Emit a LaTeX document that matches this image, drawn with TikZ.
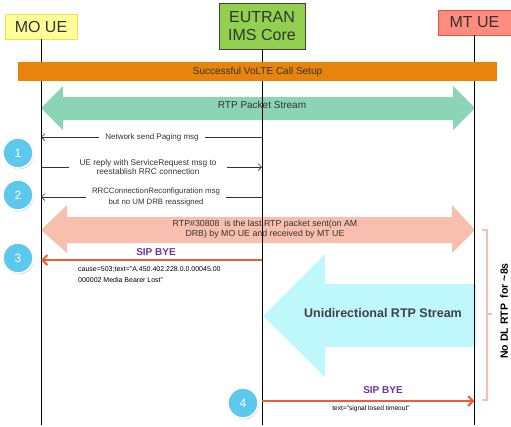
\documentclass[tikz,border=0pt]{standalone}
\usepackage{fontspec}
\setmainfont{Liberation Sans}
\usetikzlibrary{arrows.meta,positioning,shadows}
\definecolor{voYellow}{HTML}{FFFF99}
\definecolor{voYellowLine}{HTML}{F2E04A}
\definecolor{voGreen}{HTML}{92D050}
\definecolor{voRedBox}{HTML}{FF8C7E}
\definecolor{voRedLine}{HTML}{F0503C}
\definecolor{voOrange}{HTML}{E8840C}
\definecolor{voMint}{HTML}{8CD4B6}
\definecolor{voSalmon}{HTML}{F9BFAE}
\definecolor{voCyan}{HTML}{BEF8FC}
\definecolor{voDot}{HTML}{5CC8EC}
\definecolor{voRed}{HTML}{F45B2F}
\definecolor{voPurple}{HTML}{7030A0}
\definecolor{voText}{HTML}{333333}
\tikzset{
  entity/.style={minimum height=25pt,align=center,inner sep=2pt,
    font=\fontsize{16}{17}\selectfont,text=voText},
  life/.style={draw=black,line width=0.9pt},
  msg/.style={-{Straight Barb[length=3.5pt,width=7pt]},line width=0.6pt,black!80},
  msglabel/.style={fill=white,align=center,inner xsep=6pt,inner ysep=0.5pt,
    font=\fontsize{8.3}{9}\selectfont,text=voText},
  stepdot/.style={circle,fill=voDot,draw=white,line width=1.5pt,minimum size=30pt,
    text=white,font=\fontsize{12}{12}\selectfont,
    drop shadow={opacity=0.3,shadow xshift=0.8pt,shadow yshift=-1.5pt}},
  bye/.style={-{Straight Barb[length=5pt,width=10pt]},line width=2pt,voRed},
  byelabel/.style={font=\bfseries\fontsize{10}{12}\selectfont,text=voPurple},
  streamlabel/.style={align=center,text=voText}
}
\begin{document}
\begin{tikzpicture}[x=1pt,y=-1pt]
  \useasboundingbox (0,0) rectangle (511,426);
  % block arrows
  \fill[voMint] (41,108) -- (63,86) -- (63,97) -- (453,97) -- (453,86) -- (475,108)
    -- (453,130) -- (453,120) -- (63,120) -- (63,130) -- cycle;
  \fill[voSalmon] (41,230) -- (67,205) -- (67,217) -- (452,217) -- (452,205) -- (475,230)
    -- (452,253) -- (452,243) -- (67,243) -- (67,253) -- cycle;
  \fill[voCyan] (263,316) -- (325,254) -- (325,284) -- (476,284) -- (476,347)
    -- (325,347) -- (325,377) -- cycle;
  % entities and lifelines
  \node[entity,fill=voYellow,draw=voYellowLine,minimum width=72pt,
    drop shadow={opacity=0.2,shadow xshift=0.8pt,shadow yshift=-1pt}] (mo) at (41,26.5) {MO UE};
  \node[entity,fill=voGreen,draw=black!75,minimum width=86pt,minimum height=46pt,
    font=\fontsize{16}{17.5}\selectfont] (core) at (262,26) {EUTRAN\\IMS Core};
  \node[entity,fill=voRedBox,draw=voRedLine,minimum width=73pt,
    drop shadow={opacity=0.2,shadow xshift=0.8pt,shadow yshift=-1pt}] (mt) at (474.5,22.5) {MT UE};
  \coordinate (bottom) at (0,425);
  \foreach \e in {mo,core,mt}{\draw[life] (\e.south) -- (\e |- bottom);}
  \node[fill=voOrange,minimum width=479pt,minimum height=19pt,inner sep=0pt,
    font=\fontsize{10}{12}\selectfont,text=voText] (setup) at (257.5,71.5) {Successful VoLTE Call Setup};
  % stream labels
  \node[streamlabel,font=\fontsize{10}{12}\selectfont] (rtp) at (262,105) {RTP Packet Stream};
  \node[streamlabel,font=\fontsize{8.8}{10}\selectfont] (last) at (265,229)
       {RTP\#30808\ \ is the last RTP packet sent(on AM\\DRB) by MO UE and received by MT UE};
  \node[streamlabel,font=\bfseries\fontsize{12.5}{14}\selectfont,text=black!75] (uni) at (383,313)
       {Unidirectional RTP Stream};
  % messages
  \coordinate (r1) at (0,137);
  \coordinate (r2) at (0,167);
  \coordinate (r3) at (0,197);
  \coordinate (r4) at (0,260);
  \coordinate (r5) at (0,401);
  \draw[msg] (core |- r1) -- (mo |- r1);
  \node[msglabel,font=\fontsize{8}{9}\selectfont] (paging) at (152,137) {Network send Paging msg};
  \draw[msg] (mo |- r2) -- (core |- r2);
  \node[msglabel,inner xsep=10pt] (reply) at (148,167.5) {UE reply with ServiceRequest msg to\\reestablish RRC connection};
  \draw[msg] (core |- r3) -- (mo |- r3);
  \node[msglabel,font=\fontsize{7.8}{11}\selectfont,inner ysep=0pt] (rrc) at (156,196.5) {RRCConnectionReconfiguration msg\\but no UM DRB reassigned};
  \draw[bye] (core |- r4) -- (mo |- r4);
  \node[byelabel] (bye3) at (156,252) {SIP BYE};
  \node[anchor=west,align=left,font=\fontsize{7}{11}\selectfont,inner sep=0pt] (cause) at (78,274.5)
       {cause=503;text="A.450.402.228.0.0.00045.00\\000002 Media Bearer Lost"};
  \draw[bye] (core |- r5) -- (mt |- r5);
  \node[byelabel] (bye4) at (383,390) {SIP BYE};
  \node[font=\fontsize{6.6}{8}\selectfont] (timeout) at (371,409) {text="signal losed timeout"};
  % step markers
  \node[stepdot] (s1) at (18,153) {1};
  \node[stepdot] (s2) at (18,195) {2};
  \node[stepdot] (s3) at (18,258) {3};
  \node[stepdot] (s4) at (243,403) {4};
  % silence bracket
  \draw[voSalmon,line width=1.2pt] (482,230) -- (487,230) -- (487,400) -- (482,400);
  \draw[voSalmon,line width=1.2pt] (487,314) -- (492,314);
  \node[rotate=90,font=\bfseries\fontsize{10.5}{12}\selectfont] (nodl) at (504,311)
       {No DL RTP\ \ for \textasciitilde8s};
\end{tikzpicture}
\end{document}
